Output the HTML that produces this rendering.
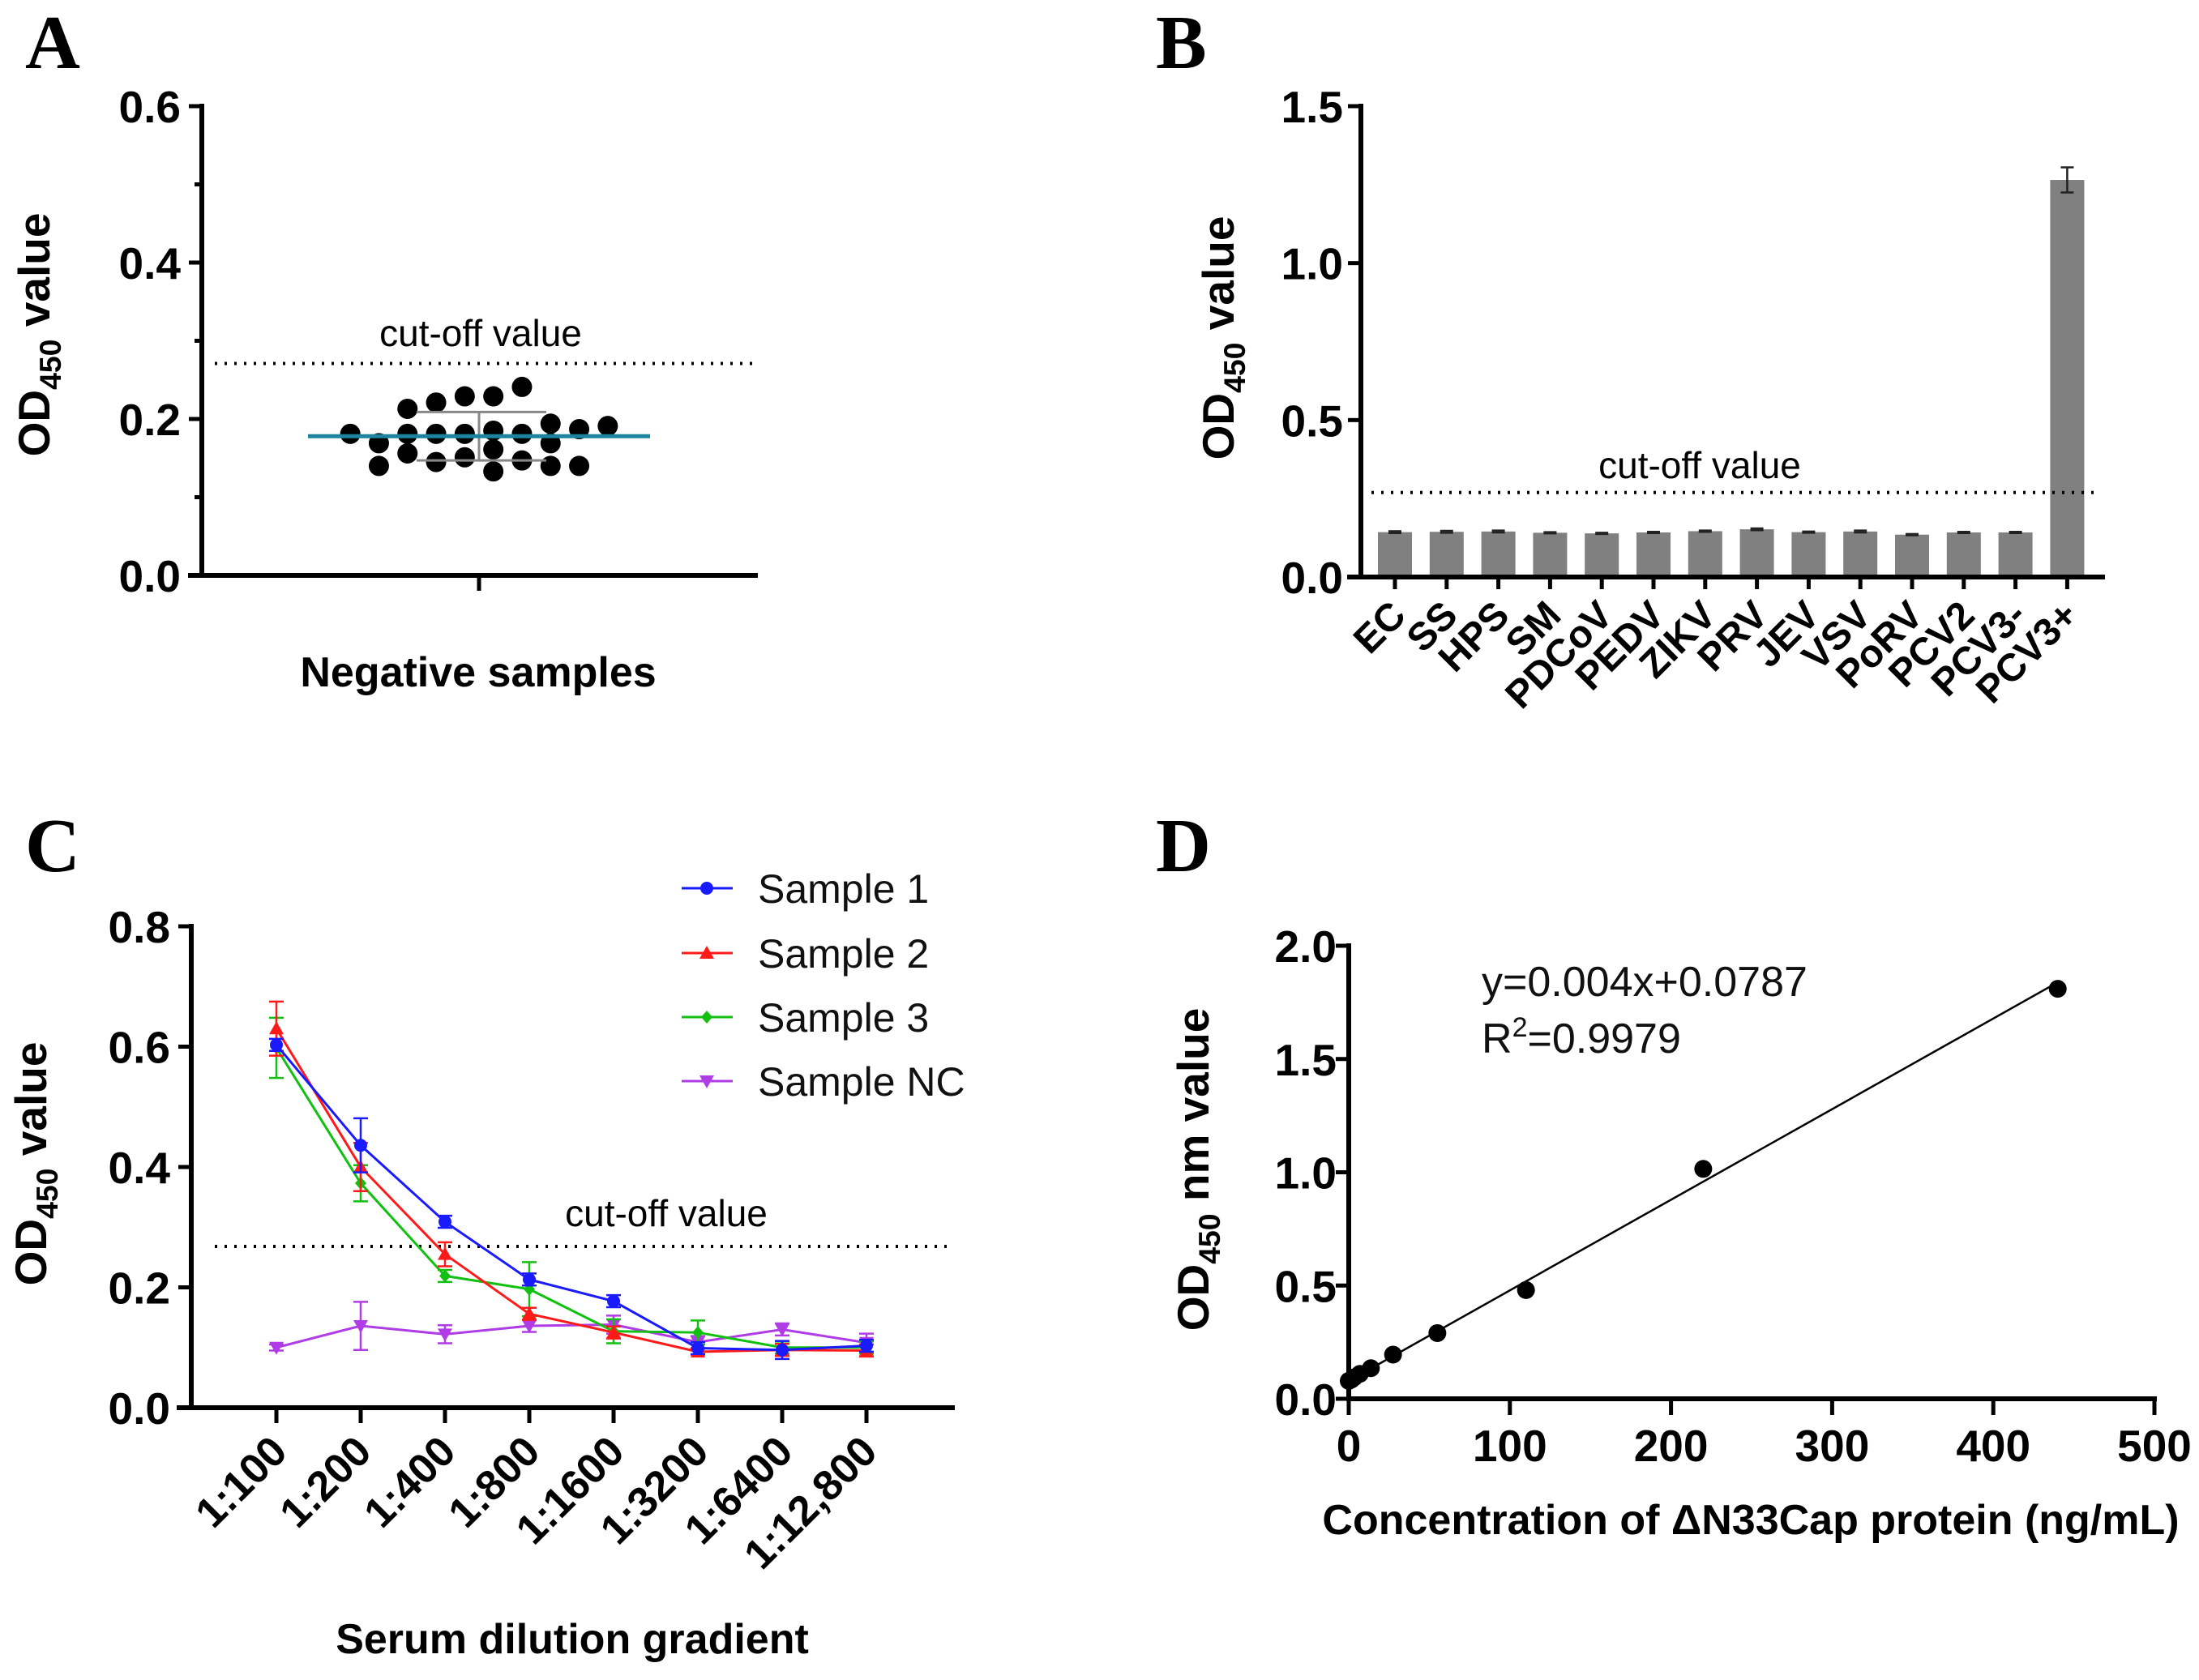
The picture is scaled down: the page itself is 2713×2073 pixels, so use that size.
<!DOCTYPE html>
<html><head><meta charset="utf-8"><style>
html,body{margin:0;padding:0;background:#fff}
svg{display:block}
text{font-family:"Liberation Sans",Arial,sans-serif}
text.serif{font-family:"Liberation Serif","Times New Roman",serif}
</style></head><body>
<svg id="fig" width="2713" height="2073" viewBox="0 0 2713 2073" xmlns="http://www.w3.org/2000/svg"></svg>
<script>
// ---------- Panel A data ----------
const aValues = [0.241,0.213,0.221,0.229,0.229,0.181,0.169,0.181,0.181,0.181,0.185,0.181,0.194,0.187,0.191,0.161,0.169,0.156,0.145,0.151,0.147,0.140,0.133,0.140,0.140];
const aColumns = [2,-2,-1,0,1,-4,-3,-2,-1,0,1,2,3,4,5,1,3,-2,-1,0,2,-3,1,3,4];
const aMean = [0.178];
const aSD = [0.147,0.209];
const aTicks = [0,0.2,0.4,0.6];
const cutoffA = [0.271];
// ---------- Panel B data ----------
const bCategories = ["EC","SS","HPS","SM","PDCoV","PEDV","ZIKV","PRV","JEV","VSV","PoRV","PCV2","PCV3-","PCV3+"];
const bValues = [0.143,0.144,0.145,0.141,0.139,0.142,0.146,0.152,0.143,0.145,0.135,0.142,0.142,1.265];
const bErrors = [0.003,0.003,0.003,0.002,0.002,0.002,0.002,0.003,0.002,0.003,0.002,0.002,0.002,0.04];
const bTicks = [0,0.5,1.0,1.5];
const bTickLabels = ["0.0","0.5","1.0","1.5"];
const cutoffB = [0.269];
// ---------- Panel C data ----------
const cCategories = ["1:100","1:200","1:400","1:800","1:1600","1:3200","1:6400","1:12,800"];
const cS1 = [0.603,0.436,0.309,0.213,0.177,0.099,0.096,0.103];
const cS1err = [0.01,0.045,0.01,0.01,0.01,0.01,0.015,0.01];
const cS2 = [0.630,0.400,0.255,0.156,0.125,0.093,0.096,0.095];
const cS2err = [0.045,0.04,0.02,0.01,0.01,0.005,0.01,0.01];
const cS3 = [0.598,0.373,0.219,0.197,0.127,0.125,0.100,0.100];
const cS3err = [0.05,0.03,0.01,0.045,0.02,0.02,0.01,0.01];
const cNC = [0.100,0.136,0.122,0.136,0.138,0.109,0.130,0.108];
const cNCerr = [0.005,0.04,0.015,0.01,0.015,0.01,0.01,0.015];
const cTicks = [0,0.2,0.4,0.6,0.8];
const cutoffC = [0.268];
// ---------- Panel D data ----------
const dX = [440,220,110,55,27.5,13.75,6.875,3.44,1.72,0];
const dY = [1.81,1.015,0.48,0.29,0.195,0.135,0.11,0.095,0.085,0.079];
const dFit = [0.004,0.0787];
const dXTicks = [0,100,200,300,400,500];
const dYTicks = [0,0.5,1.0,1.5,2.0];
const dYTickLabels = ["0.0","0.5","1.0","1.5","2.0"];

const NS = "http://www.w3.org/2000/svg";
const svg = document.getElementById('fig');
function el(tag, attrs, parent, txt){
  const e = document.createElementNS(NS, tag);
  for (const k in attrs) e.setAttribute(k, attrs[k]);
  if (txt !== undefined) e.textContent = txt;
  (parent||svg).appendChild(e);
  return e;
}
function grp(name){
  const g = document.createElementNS(NS,'g');
  
  
  svg.appendChild(g);
  return g;
}
function ytitle(g, cx, cy, main, sub, rest, fs){
  const t = el('text',{transform:`translate(${cx},${cy}) rotate(-90)`,'text-anchor':'middle','font-weight':'bold','font-size':fs,fill:'#000'},g);
  
  
  el('tspan',{},t,main);
  el('tspan',{dy:fs*0.25,'font-size':fs*0.68},t,sub);
  el('tspan',{dy:-fs*0.25},t,rest);
  return t;
}
function panelLabel(letter,x,y){
  const t = el('text',{x:x,y:y,'class':'serif','font-weight':'bold','font-size':94,fill:'#000'},svg,letter);
  
  
}

// ================= PANEL A =================
(function(){
  const g = grp('panel-a-chart');
  const y0=710, y1=131, vmax=0.6, axX=249, cx=591, colW=35.3;
  const ys = v => y0 - (v/vmax)*(y0-y1);
  el('line',{x1:axX,y1:y1-3,x2:axX,y2:y0+3,stroke:'#000','stroke-width':6},g);
  el('line',{x1:232,y1:y0,x2:935,y2:y0,stroke:'#000','stroke-width':6},g);
  el('line',{x1:cx,y1:y0,x2:cx,y2:729,stroke:'#000','stroke-width':5},g);
  aTicks.forEach(v=>{
    el('line',{x1:axX-16,y1:ys(v),x2:axX,y2:ys(v),stroke:'#000','stroke-width':5},g);
    const t = el('text',{x:223,y:ys(v)+20,'text-anchor':'end','font-weight':'bold','font-size':55},g,v.toFixed(1));
    
    
  });
  [0.1,0.3,0.5].forEach(v=>{ el('line',{x1:axX-9,y1:ys(v),x2:axX,y2:ys(v),stroke:'#000','stroke-width':5},g); });
  const cl = el('line',{x1:265,y1:ys(cutoffA[0]),x2:930,y2:ys(cutoffA[0]),stroke:'#000','stroke-width':4,'stroke-dasharray':'3 9'},g);
  
  el('text',{x:593,y:427,'text-anchor':'middle','font-size':46},g,'cut-off value');
  aValues.forEach((v,i)=>{
    const c = el('circle',{cx:cx+(aColumns[i]-0.5)*colW,cy:ys(v),r:12.5,fill:'#000'},g);
    
    
  });
  el('line',{x1:514,y1:ys(aSD[1]),x2:674,y2:ys(aSD[1]),stroke:'#888','stroke-width':3},g);
  el('line',{x1:514,y1:ys(aSD[0]),x2:674,y2:ys(aSD[0]),stroke:'#888','stroke-width':3},g);
  el('line',{x1:cx,y1:ys(aSD[1]),x2:cx,y2:ys(aSD[0]),stroke:'#888','stroke-width':3},g);
  const m = el('line',{x1:380,y1:ys(aMean[0]),x2:802,y2:ys(aMean[0]),stroke:'#1a859c','stroke-width':5},g);
  
  ytitle(g,61,413,'OD','450',' value',55);
  el('text',{x:590,y:847,'text-anchor':'middle','font-weight':'bold','font-size':52},g,'Negative samples');
})();
panelLabel('A',31,84);

// ================= PANEL B =================
(function(){
  const g = grp('panel-b-chart');
  const y0=712, y1=131, vmax=1.5, axX=1679, x0=1721, step=63.8, bw=42;
  const ys = v => y0 - (v/vmax)*(y0-y1);
  bValues.forEach((v,i)=>{
    const x = x0+i*step;
    const r = el('rect',{x:x-bw/2,y:ys(v),width:bw,height:y0-ys(v),fill:'#808080'},g);
    
    
    const e = bErrors[i];
    el('line',{x1:x,y1:ys(v+e),x2:x,y2:ys(v-e),stroke:'#222','stroke-width':2.5},g);
    el('line',{x1:x-8,y1:ys(v+e),x2:x+8,y2:ys(v+e),stroke:'#222','stroke-width':2.5},g);
    el('line',{x1:x-8,y1:ys(v-e),x2:x+8,y2:ys(v-e),stroke:'#222','stroke-width':2.5},g);
    el('line',{x1:x,y1:y0,x2:x,y2:727,stroke:'#000','stroke-width':5},g);
    const t = el('text',{transform:`translate(${x+16},${762}) rotate(-45)`,'text-anchor':'end','font-weight':'bold','font-size':48},g,bCategories[i]);
    
    
  });
  el('line',{x1:axX,y1:y1-3,x2:axX,y2:y0+3,stroke:'#000','stroke-width':6},g);
  el('line',{x1:1662,y1:y0,x2:2597,y2:y0,stroke:'#000','stroke-width':6},g);
  bTicks.forEach((v,i)=>{
    el('line',{x1:axX-16,y1:ys(v),x2:axX,y2:ys(v),stroke:'#000','stroke-width':5},g);
    const t = el('text',{x:1657,y:ys(v)+20,'text-anchor':'end','font-weight':'bold','font-size':55},g,bTickLabels[i]);
    
    
  });
  el('line',{x1:1692,y1:ys(cutoffB[0]),x2:2590,y2:ys(cutoffB[0]),stroke:'#000','stroke-width':4,'stroke-dasharray':'3 9'},g);
  el('text',{x:2097,y:590,'text-anchor':'middle','font-size':46},g,'cut-off value');
  ytitle(g,1522,417,'OD','450',' value',55);
})();
panelLabel('B',1426,84);

// ================= PANEL C =================
(function(){
  const g = grp('panel-c-chart');
  const y0=1737, y1=1143, vmax=0.8, axX=236, x0=341, step=104;
  const ys = v => y0 - (v/vmax)*(y0-y1);
  const xs = i => x0 + i*step;
  el('line',{x1:axX,y1:y1-3,x2:axX,y2:y0+3,stroke:'#000','stroke-width':6},g);
  el('line',{x1:218,y1:y0,x2:1178,y2:y0,stroke:'#000','stroke-width':6},g);
  cTicks.forEach(v=>{
    el('line',{x1:axX-16,y1:ys(v),x2:axX,y2:ys(v),stroke:'#000','stroke-width':5},g);
    const t = el('text',{x:210,y:ys(v)+20,'text-anchor':'end','font-weight':'bold','font-size':55},g,v.toFixed(1));
    
    
  });
  cCategories.forEach((c,i)=>{
    el('line',{x1:xs(i),y1:y0,x2:xs(i),y2:1756,stroke:'#000','stroke-width':5},g);
    const t = el('text',{transform:`translate(${xs(i)+16},${1794}) rotate(-45)`,'text-anchor':'end','font-weight':'bold','font-size':52},g,c);
    
    
  });
  el('line',{x1:265,y1:ys(cutoffC[0]),x2:1171,y2:ys(cutoffC[0]),stroke:'#000','stroke-width':4,'stroke-dasharray':'3 9'},g);
  el('text',{x:822,y:1513,'text-anchor':'middle','font-size':46},g,'cut-off value');
  function marker(parent,shape,x,y,col){
    let m;
    if(shape==='circle') m = el('circle',{cx:x,cy:y,r:8,fill:col},parent);
    else if(shape==='tri') m = el('polygon',{points:`${x},${y-9} ${x-9},${y+7} ${x+9},${y+7}`,fill:col},parent);
    else if(shape==='diamond') m = el('polygon',{points:`${x},${y-8} ${x-7},${y} ${x},${y+8} ${x+7},${y}`,fill:col},parent);
    else m = el('polygon',{points:`${x-9},${y-7} ${x+9},${y-7} ${x},${y+9}`,fill:col},parent);
    return m;
  }
  const series = [
    {name:'sample-nc',label:'Sample NC',vals:cNC,err:cNCerr,col:'#b03ce6',shape:'invtri',ly:1334},
    {name:'sample-3',label:'Sample 3',vals:cS3,err:cS3err,col:'#11c011',shape:'diamond',ly:1255},
    {name:'sample-2',label:'Sample 2',vals:cS2,err:cS2err,col:'#ff1a1a',shape:'tri',ly:1176},
    {name:'sample-1',label:'Sample 1',vals:cS1,err:cS1err,col:'#1a1aff',shape:'circle',ly:1096}
  ];
  series.forEach(s=>{
    const sg = el('g',{},g);
    
    
    const pts = s.vals.map((v,i)=>xs(i)+','+ys(v)).join(' ');
    el('polyline',{points:pts,fill:'none',stroke:s.col,'stroke-width':3},sg);
    s.vals.forEach((v,i)=>{
      const x=xs(i), e=s.err[i];
      el('line',{x1:x,y1:ys(v+e),x2:x,y2:ys(v-e),stroke:s.col,'stroke-width':2.5},sg);
      el('line',{x1:x-9,y1:ys(v+e),x2:x+9,y2:ys(v+e),stroke:s.col,'stroke-width':2.5},sg);
      el('line',{x1:x-9,y1:ys(v-e),x2:x+9,y2:ys(v-e),stroke:s.col,'stroke-width':2.5},sg);
      const m = marker(sg,s.shape,x,ys(v),s.col);
      
    });
    const lg = el('g',{},g);
    
    
    el('line',{x1:841,y1:s.ly,x2:904,y2:s.ly,stroke:s.col,'stroke-width':3},lg);
    marker(lg,s.shape,872,s.ly,s.col);
    el('text',{x:935,y:s.ly+18,'font-size':50,fill:'#111'},lg,s.label);
  });
  ytitle(g,57,1436,'OD','450',' value',55);
  el('text',{x:706,y:2040,'text-anchor':'middle','font-weight':'bold','font-size':52},g,'Serum dilution gradient');
})();
panelLabel('C',31,1075);

// ================= PANEL D =================
(function(){
  const g = grp('panel-d-chart');
  const y0=1726, y1=1167, vmax=2.0, x0=1664, x1=2658, xmax=500;
  const ys = v => y0 - (v/vmax)*(y0-y1);
  const xs = v => x0 + (v/xmax)*(x1-x0);
  el('line',{x1:x0,y1:y1-3,x2:x0,y2:y0+3,stroke:'#000','stroke-width':6},g);
  el('line',{x1:x0-3,y1:y0,x2:x1+3,y2:y0,stroke:'#000','stroke-width':6},g);
  dYTicks.forEach((v,i)=>{
    el('line',{x1:x0-16,y1:ys(v),x2:x0,y2:ys(v),stroke:'#000','stroke-width':5},g);
    const t = el('text',{x:1649,y:ys(v)+20,'text-anchor':'end','font-weight':'bold','font-size':55},g,dYTickLabels[i]);
    
    
  });
  dXTicks.forEach(v=>{
    el('line',{x1:xs(v),y1:y0,x2:xs(v),y2:1746,stroke:'#000','stroke-width':5},g);
    const t = el('text',{x:xs(v),y:1803,'text-anchor':'middle','font-weight':'bold','font-size':55},g,String(v));
    
    
  });
  const xEnd = Math.max(...dX);
  const fl = el('line',{x1:xs(0),y1:ys(dFit[1]),x2:xs(xEnd),y2:ys(dFit[0]*xEnd+dFit[1]),stroke:'#000','stroke-width':2.5},g);
  
  dX.forEach((x,i)=>{
    const c = el('circle',{cx:xs(x),cy:ys(dY[i]),r:11,fill:'#000'},g);
    
    
  });
  el('text',{x:1828,y:1229,'font-size':52,fill:'#111'},g,'y=0.004x+0.0787');
  const r2 = el('text',{x:1828,y:1299,'font-size':52,fill:'#111'},g);
  
  el('tspan',{},r2,'R');
  el('tspan',{dy:-20,'font-size':34},r2,'2');
  el('tspan',{dy:20},r2,'=0.9979');
  ytitle(g,1491,1443,'OD','450',' nm value',55);
  el('text',{x:2160,y:1893,'text-anchor':'middle','font-weight':'bold','font-size':52},g,'Concentration of ΔN33Cap protein (ng/mL)');
})();
panelLabel('D',1426,1075);
</script>
</body></html>
